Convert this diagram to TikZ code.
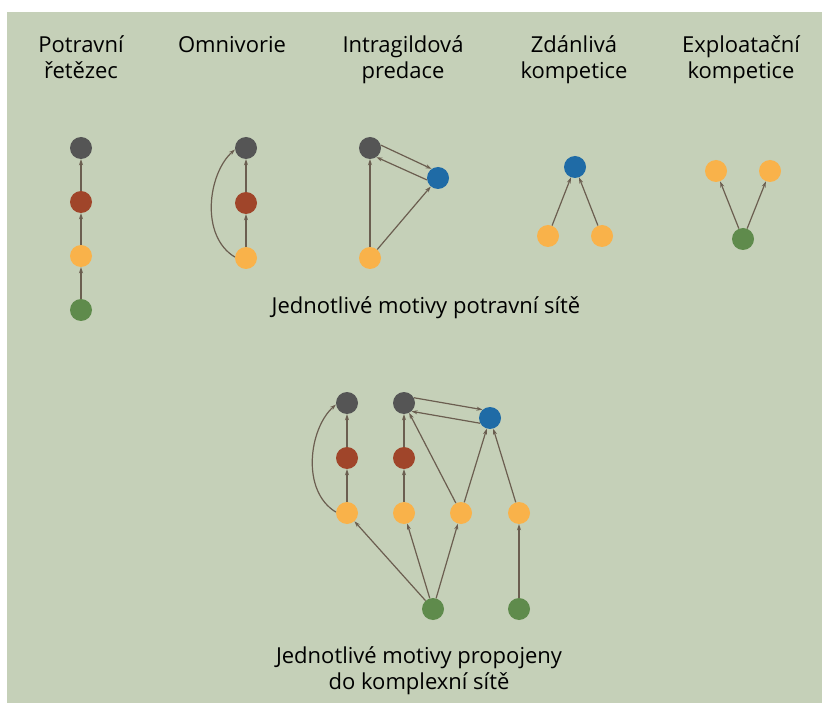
\documentclass[tikz,border=0pt]{standalone}
\usepackage{fontspec}
\setmainfont{Open Sans}
\usetikzlibrary{arrows.meta}
\definecolor{bgsage}{HTML}{C5D0B8}
\definecolor{topgray}{HTML}{555555}
\definecolor{rust}{HTML}{A0452A}
\definecolor{amber}{HTML}{F9B24A}
\definecolor{steelblue}{HTML}{1F6BA6}
\definecolor{leafgreen}{HTML}{5F8B4C}
\definecolor{arrowbrown}{HTML}{6B5E50}
\begin{document}
\begin{tikzpicture}
[ x=1pt, y=-1pt
, sp/.style={circle, minimum size=22pt, inner sep=0pt}
, apex/.style={sp, fill=topgray}
, mid/.style={sp, fill=rust}
, cons/.style={sp, fill=amber}
, side/.style={sp, fill=steelblue}
, basal/.style={sp, fill=leafgreen}
, feed/.style={-{Stealth[length=6pt, width=4pt]}, line width=1.2pt, draw=arrowbrown}
, motivtext/.style={align=center, font=\fontsize{22}{26}\selectfont, inner sep=0pt, anchor=base}
]
\useasboundingbox (0,0) rectangle (822,703);
\fill[bgsage] (7,12) rectangle (822,703);
% Titles (base = last line):
\node (t1) [motivtext] at (81,79) {Potravní\\řetězec};
\node (t2) [motivtext] at (232,53) {Omnivorie};
\node (t3) [motivtext] at (403,79) {Intragildová\\predace};
\node (t4) [motivtext] at (574,79) {Zdánlivá\\kompetice};
\node (t5) [motivtext] at (741,79) {Exploatační\\kompetice};
\node (t6) [motivtext] at (426,314) {Jednotlivé motivy potravní sítě};
\node (t7) [motivtext] at (419,689) {Jednotlivé motivy propojeny\\do komplexní sítě};
% Food chain:
\node (c1g) [apex] at (81,148) {};
\node (c1r) [mid] at (81,202) {};
\node (c1y) [cons] at (81,256) {};
\node (c1z) [basal] at (81,310) {};
\draw [feed] (c1z) -- (c1y);
\draw [feed] (c1y) -- (c1r);
\draw [feed] (c1r) -- (c1g);
% Omnivory:
\node (og) [apex] at (246,148) {};
\node (or) [mid] at (246,203) {};
\node (oy) [cons] at (246,258) {};
\draw [feed] (oy) -- (or);
\draw [feed] (or) -- (og);
\draw [feed] (oy.175) .. controls +(-35,-21) and +(-27,24) .. (og.188);
% Intraguild predation:
\node (ig) [apex] at (370,148) {};
\node (ib) [side] at (438,178) {};
\node (iy) [cons] at (370,258) {};
\draw [feed] (ig.15) -- (ib.125);
\draw [feed] (ib.190) -- (ig.-55);
\draw [feed] (iy) -- (ig);
\draw [feed] (iy) -- (ib);
% Apparent competition:
\node (zb) [side] at (575,167) {};
\node (zy1) [cons] at (548,236) {};
\node (zy2) [cons] at (602,236) {};
\draw [feed] (zy1) -- (zb);
\draw [feed] (zy2) -- (zb);
% Exploitative competition:
\node (ey1) [cons] at (716,171) {};
\node (ey2) [cons] at (770,171) {};
\node (ez) [basal] at (743,239) {};
\draw [feed] (ez) -- (ey1);
\draw [feed] (ez) -- (ey2);
% Complex web:
\node (ng1) [apex] at (347,403) {};
\node (ng2) [apex] at (404,403) {};
\node (nb) [side] at (490,418) {};
\node (nr1) [mid] at (347,458) {};
\node (nr2) [mid] at (404,458) {};
\node (ny1) [cons] at (347,513) {};
\node (ny2) [cons] at (404,513) {};
\node (ny3) [cons] at (461,513) {};
\node (ny4) [cons] at (519,513) {};
\node (nz1) [basal] at (433,609) {};
\node (nz2) [basal] at (519,609) {};
\draw [feed] (ny1) -- (nr1);
\draw [feed] (nr1) -- (ng1);
\draw [feed] (ny1.175) .. controls +(-35,-21) and +(-27,24) .. (ng1.188);
\draw [feed] (ny2) -- (nr2);
\draw [feed] (nr2) -- (ng2);
\draw [feed] (ng2.28) -- (nb.132);
\draw [feed] (nb.208) -- (ng2.-48);
\draw [feed] (ny3) -- (ng2);
\draw [feed] (ny3) -- (nb);
\draw [feed] (ny4) -- (nb);
\draw [feed] (nz1) -- (ny1);
\draw [feed] (nz1) -- (ny2);
\draw [feed] (nz1) -- (ny3);
\draw [feed] (nz2) -- (ny4);
\end{tikzpicture}
\end{document}
